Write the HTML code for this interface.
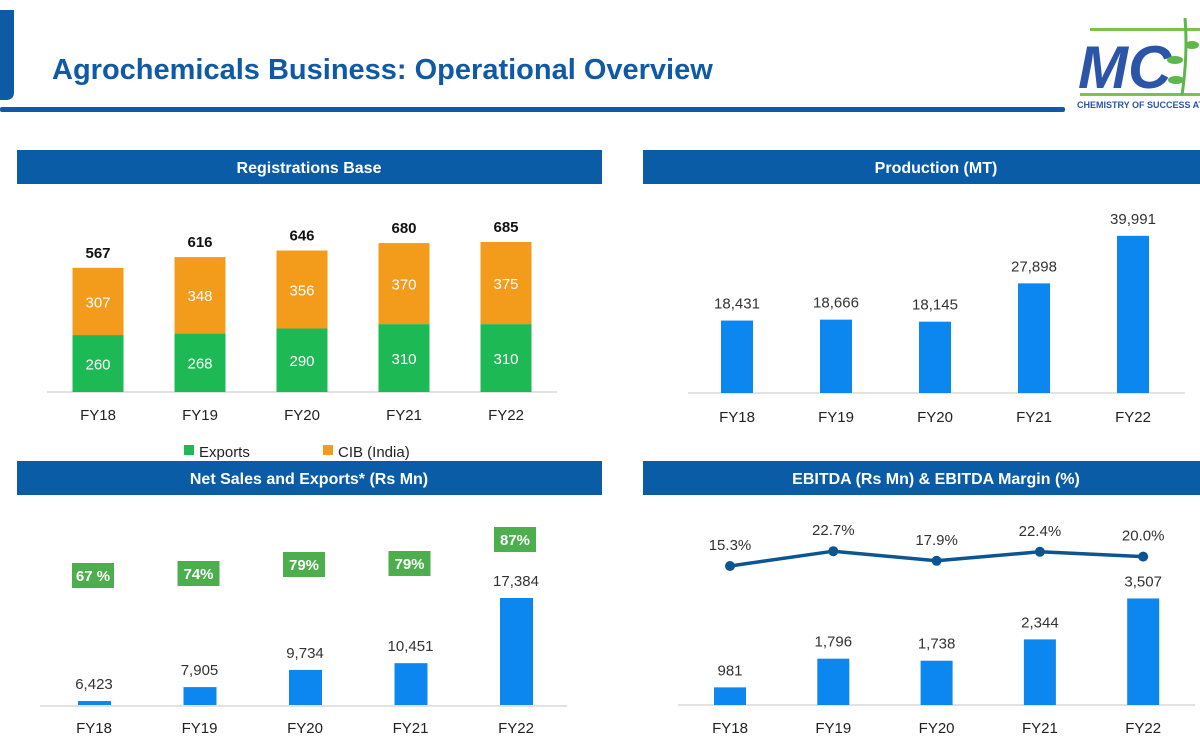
<!DOCTYPE html>
<html><head><meta charset="utf-8">
<style>
body{margin:0;width:1200px;height:743px;background:#fff;overflow:hidden;font-family:"Liberation Sans",sans-serif;}
svg{display:block}
</style></head>
<body>
<svg width="1200" height="743" viewBox="0 0 1200 743" xmlns="http://www.w3.org/2000/svg" id="root">
<path d="M0 10 H14 V92 Q14 100 6 100 H0 Z" fill="#0e5aa7"/>
<text x="52" y="79" font-size="29" font-weight="bold" fill="#0e5aa7">Agrochemicals Business: Operational Overview</text>
<rect x="0" y="107" width="1065" height="5" rx="2" fill="#0e5aa7"/>
<g>
<rect x="1090" y="28" width="110" height="3" fill="#7cc24a"/>
<rect x="1080" y="93" width="120" height="3" fill="#7cc24a"/>
<text x="1078" y="88" font-size="60" font-weight="bold" font-style="italic" fill="#2a55a8">MC</text>
<path d="M1182 95 Q1188 55 1185 18" stroke="#5cb84a" stroke-width="3" fill="none"/>
<ellipse cx="1175" cy="60" rx="8" ry="4" fill="#5cb84a"/><ellipse cx="1176" cy="80" rx="8" ry="4" fill="#5cb84a"/><ellipse cx="1192" cy="45" rx="7" ry="4" fill="#5cb84a"/>
<text x="1077" y="108" font-size="9" font-weight="bold" fill="#2a55a8">CHEMISTRY OF SUCCESS AT</text>
</g>
<g id="headers">
<rect x="17" y="150" width="585" height="34" fill="#0b5ca6"/>
<text x="309" y="173" font-size="16" font-weight="bold" fill="#fff" text-anchor="middle">Registrations Base</text>
<rect x="643" y="150" width="557" height="34" fill="#0b5ca6"/>
<text x="936" y="173" font-size="16" font-weight="bold" fill="#fff" text-anchor="middle">Production (MT)</text>
<rect x="17" y="461" width="585" height="34" fill="#0b5ca6"/>
<text x="309" y="484" font-size="16" font-weight="bold" fill="#fff" text-anchor="middle">Net Sales and Exports* (Rs Mn)</text>
<rect x="643" y="461" width="557" height="34" fill="#0b5ca6"/>
<text x="936" y="484" font-size="16" font-weight="bold" fill="#fff" text-anchor="middle">EBITDA (Rs Mn) &amp; EBITDA Margin (%)</text>
</g>
<g>
<rect x="184" y="445" width="10" height="10" fill="#1db954"/>
<text x="199" y="457" font-size="15" fill="#222">Exports</text>
<rect x="323" y="445" width="10" height="10" fill="#f39c1b"/>
<text x="338" y="457" font-size="15" fill="#222">CIB  (India)</text>
</g>
<g id="charts"></g>
</svg>
<script>
const categories=["FY18","FY19","FY20","FY21","FY22"];
const regExports=[260,268,290,310,310];
const regCIB=[307,348,356,370,375];
const production=[18431,18666,18145,27898,39991];
const netSales=[6423,7905,9734,10451,17384];
const exportShare=["67 %","74%","79%","79%","87%"];
const exportShareY=[575,573,564,563,539];
const ebitda=[981,1796,1738,2344,3507];
const ebitdaMargin=[15.3,22.7,17.9,22.4,20.0];

const NS="http://www.w3.org/2000/svg";
const g=document.getElementById('charts');
function mk(tag,attrs,text){const e=document.createElementNS(NS,tag);for(const k in attrs)e.setAttribute(k,attrs[k]);if(text!==undefined)e.textContent=text;g.appendChild(e);return e;}
const fmt=v=>v.toLocaleString('en-US');
const leftX=i=>98+i*102;
const leftX2=i=>94+i*105.5;
const rightX=i=>737+i*99;
function axis(x1,x2,y,name){const l=mk('line',{x1:x1,x2:x2,y1:y,y2:y,stroke:'#d9d9d9','stroke-width':1.5});

}
function cat(x,y){categories.forEach((c,i)=>{const t=mk('text',{x:x(i),y:y,'font-size':15,fill:'#222','text-anchor':'middle'},c);

});}

// Registrations
const regY=v=>392-v*0.219;
axis(47,557,392,'registrations-axis');
categories.forEach((c,i)=>{
 const x=leftX(i),w=51,e=regExports[i],t=e+regCIB[i];
 const b1=mk('rect',{x:x-w/2,y:regY(e),width:w,height:392-regY(e),fill:'#1db954'});
 
 
 const b2=mk('rect',{x:x-w/2,y:regY(t),width:w,height:regY(e)-regY(t),fill:'#f39c1b'});
 
 
 const l1=mk('text',{x:x,y:(392+regY(e))/2+6,'font-size':15,fill:'#fff','text-anchor':'middle'},e);
 
 
 const l2=mk('text',{x:x,y:(regY(e)+regY(t))/2+6,'font-size':15,fill:'#fff','text-anchor':'middle'},regCIB[i]);
 
 
 const l3=mk('text',{x:x,y:regY(t)-10,'font-size':15,'font-weight':'bold',fill:'#111','text-anchor':'middle'},t);
 
 
});
cat(leftX,420);

// Production
const prodY=v=>393-v*0.00393;
axis(688,1185,393,'production-axis');
categories.forEach((c,i)=>{
 const x=rightX(i),v=production[i];
 const b=mk('rect',{x:x-16,y:prodY(v),width:32,height:393-prodY(v),fill:'#0d87f0'});
 
 
 const t=mk('text',{x:x,y:prodY(v)-12,'font-size':15,fill:'#333','text-anchor':'middle'},fmt(v));
 
 
});
cat(rightX,422);

// Net sales
const nsY=v=>705-(v-6000)*(107/11384);
axis(40,567,706,'net-sales-axis');
categories.forEach((c,i)=>{
 const x=leftX2(i),v=netSales[i];
 const b=mk('rect',{x:x-16,y:nsY(v),width:33,height:705-nsY(v),fill:'#0d87f0'});
 
 
 const t=mk('text',{x:x,y:nsY(v)-12,'font-size':15,fill:'#333','text-anchor':'middle'},fmt(v));
 
 
 const by=exportShareY[i]-12;
 const r=mk('rect',{x:x-22,y:by,width:42,height:25,fill:'#4cae4c'});
 
 
 const s=mk('text',{x:x-1,y:by+18,'font-size':15,'font-weight':'bold',fill:'#fff','text-anchor':'middle'},exportShare[i]);
 
 
});
cat(leftX2,733);

// EBITDA
const ebY=v=>705-(v-480)*0.0352;
const mY=m=>566-(m-15.3)*2;
const ebX=i=>730+i*103.3;
axis(678,1195,705,'ebitda-axis');
categories.forEach((c,i)=>{
 const x=ebX(i),v=ebitda[i];
 const b=mk('rect',{x:x-16,y:ebY(v),width:32,height:705-ebY(v),fill:'#0d87f0'});
 
 
 const t=mk('text',{x:x,y:ebY(v)-12,'font-size':15,fill:'#333','text-anchor':'middle'},fmt(v));
 
 
});
const pl=mk('polyline',{points:ebitdaMargin.map((m,i)=>ebX(i)+','+mY(m)).join(' '),fill:'none',stroke:'#0b5592','stroke-width':3.5});


ebitdaMargin.forEach((m,i)=>{
 const c=mk('circle',{cx:ebX(i),cy:mY(m),r:5,fill:'#0b5592'});
 
 
 const t=mk('text',{x:ebX(i),y:mY(m)-16,'font-size':15,fill:'#333','text-anchor':'middle'},m.toFixed(1)+'%');
 
 
});
cat(ebX,733);
</script>
</body></html>
